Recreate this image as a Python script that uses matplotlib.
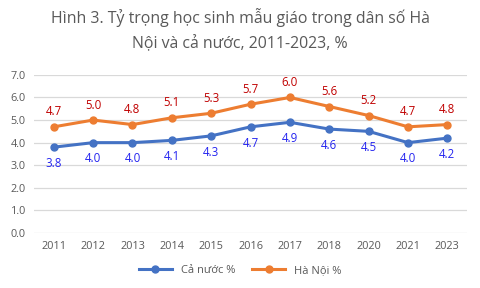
import matplotlib
matplotlib.use('Agg')
import matplotlib.pyplot as plt

years = ['2011', '2012', '2013', '2014', '2015', '2016', '2017', '2018', '2020', '2021', '2023']
ca_nuoc = [3.8, 4.0, 4.0, 4.1, 4.3, 4.7, 4.9, 4.6, 4.5, 4.0, 4.2]
ha_noi = [4.7, 5.0, 4.8, 5.1, 5.3, 5.7, 6.0, 5.6, 5.2, 4.7, 4.8]

plt.rcParams['font.family'] = ['Open Sans', 'DejaVu Sans']

fig = plt.figure(figsize=(4.8, 2.88), dpi=100)
ax = fig.add_axes([0.071, 0.191, 0.902, 0.549])
x = range(len(years))

ax.plot(x, ca_nuoc, color='#4472C4', lw=2.2, marker='o', ms=5, label='Cả nước %')
ax.plot(x, ha_noi, color='#ED7D31', lw=2.2, marker='o', ms=5, label='Hà Nội %')

for i, v in enumerate(ca_nuoc):
    ax.annotate(f'{v:.1f}', (i, v), xytext=(0, -7), textcoords='offset points',
                ha='center', va='top', fontsize=8.3, color='#2424F0')
for i, v in enumerate(ha_noi):
    ax.annotate(f'{v:.1f}', (i, v), xytext=(0, 6), textcoords='offset points',
                ha='center', va='bottom', fontsize=8.3, color='#C00000')

ax.set_xlim(-0.5, len(years) - 0.5)
ax.set_ylim(0, 7)
ax.set_yticks([i for i in range(8)])
ax.set_yticklabels([f'{i:.1f}' for i in range(8)])
ax.set_xticks(list(x))
ax.set_xticklabels(years)
ax.tick_params(length=0, labelsize=7.8, colors='#595959', pad=6)
ax.grid(axis='y', color='#D9D9D9', lw=0.9)
ax.set_axisbelow(True)
for s in ax.spines.values():
    s.set_visible(False)

fig.text(0.5, 0.895, 'Hình 3. Tỷ trọng học sinh mẫu giáo trong dân số Hà\nNội và cả nước, 2011-2023, %',
         ha='center', va='center', fontsize=11.4, color='#595959', linespacing=1.6)

fig.legend(loc='center', bbox_to_anchor=(0.5, 0.06), ncol=2, frameon=False,
           fontsize=8, labelcolor='#595959', handlelength=3, columnspacing=1.5)

fig.savefig('out.png', dpi=100)
